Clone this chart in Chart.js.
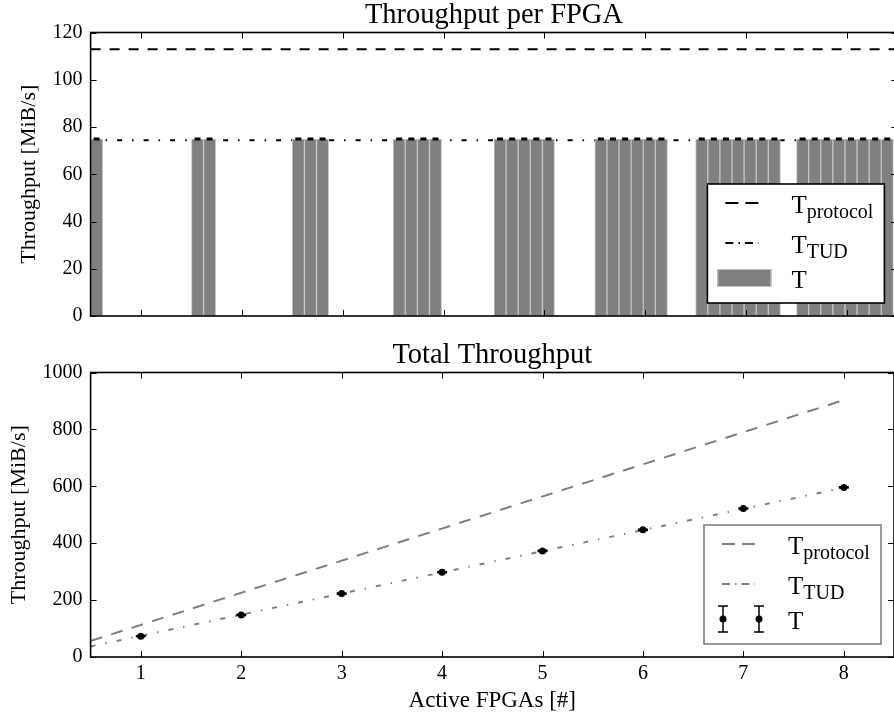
<!DOCTYPE html>
<html>
<head>
<meta charset="utf-8">
<script src="https://cdn.jsdelivr.net/npm/chart.js@4.4.1/dist/chart.umd.min.js"></script>
<style>
  html, body { margin: 0; padding: 0; background: #fff; overflow: hidden; width: 894px; height: 720px; }
  #per-fpga { position: absolute; left: 0; top: 0; }
  #total { position: absolute; left: 0; top: 340px; }
</style>
</head>
<body>
<canvas id="per-fpga" width="898" height="345"></canvas>
<canvas id="total" width="898" height="380"></canvas>
<script>
'use strict';

// ── Data ──────────────────────────────────────────────────────────────────────

const xTicks = [1, 2, 3, 4, 5, 6, 7, 8];
const perFpgaTicks = [0, 20, 40, 60, 80, 100, 120];
const totalTicks = [0, 200, 400, 600, 800, 1000];

// one bar per FPGA, grouped by number of active FPGAs
const activeFpgas = [1, 2, 3, 4, 5, 6, 7, 8];
const perFpga = [
  [74.9],
  [74.9, 74.9],
  [74.9, 74.9, 74.9],
  [74.9, 74.9, 74.9, 74.9],
  [74.9, 74.9, 74.9, 74.9, 74.9],
  [74.9, 74.9, 74.9, 74.9, 74.9, 74.9],
  [74.9, 74.9, 74.9, 74.9, 74.9, 74.9, 74.9],
  [74.9, 74.9, 74.9, 74.9, 74.9, 74.9, 74.9, 74.9],
];
const perFpgaErr = 0.3;
const protocolPerFpga = 112.9;
const tudPerFpga = 74.4;

const totalMeasured = [73, 148, 223, 298, 373, 447, 522, 596];
const totalErr = [2, 2, 2, 2, 2, 2, 2, 2];
const lineX = [0.5, 8];
const protocolTotal = [56.5, 903];
const tudTotal = [37.2, 595];

// ── Style ─────────────────────────────────────────────────────────────────────

const FONT = "'Liberation Serif', 'Times New Roman', serif";
const BAR_W = 0.12;
const DASH = [10, 9];
const DASH_DOT = [5, 10, 1.5, 10];
const GRAY = '#808080';

Chart.defaults.font.family = FONT;
Chart.defaults.font.size = 20;
Chart.defaults.color = '#000';
Chart.defaults.animation = false;

// ── Plugins ───────────────────────────────────────────────────────────────────

// frame + inward ticks on all four sides
const frameTicks = {
  id: 'frameTicks',
  afterDraw(chart) {
    const { ctx, chartArea: a, scales: { x, y } } = chart;
    ctx.save();
    ctx.strokeStyle = '#000';
    ctx.lineWidth = 1;
    ctx.beginPath();
    x.ticks.forEach(t => {
      const px = Math.round(x.getPixelForValue(t.value)) + 0.5;
      ctx.moveTo(px, a.bottom); ctx.lineTo(px, a.bottom - 6);
      ctx.moveTo(px, a.top); ctx.lineTo(px, a.top + 6);
    });
    y.ticks.forEach(t => {
      const py = Math.round(y.getPixelForValue(t.value)) + 0.5;
      ctx.moveTo(a.left, py); ctx.lineTo(a.left + 6, py);
      ctx.moveTo(a.right, py); ctx.lineTo(a.right - 6, py);
    });
    ctx.stroke();
    ctx.lineWidth = 1.6;
    ctx.strokeRect(a.left, a.top, a.right - a.left, a.bottom - a.top);
    ctx.restore();
  }
};

const errorBars = {
  id: 'errorBars',
  afterDatasetsDraw(chart, args, o) {
    if (o.datasetIndex == null) return;
    const { ctx, scales: { x, y } } = chart;
    const ds = chart.data.datasets[o.datasetIndex];
    ctx.save();
    ctx.strokeStyle = '#000';
    ctx.lineWidth = o.width;
    ctx.beginPath();
    ds.data.forEach(p => {
      const px = x.getPixelForValue(p.x);
      const lo = y.getPixelForValue(p.y - p.err);
      const hi = y.getPixelForValue(p.y + p.err);
      const c = o.cap / 2;
      ctx.moveTo(px, lo); ctx.lineTo(px, hi);
      ctx.moveTo(px - c, lo); ctx.lineTo(px + c, lo);
      ctx.moveTo(px - c, hi); ctx.lineTo(px + c, hi);
    });
    ctx.stroke();
    ctx.restore();
  }
};

function drawErrorHandle(ctx, cx, cy) {
  ctx.strokeStyle = '#000';
  ctx.lineWidth = 1.5;
  ctx.setLineDash([]);
  ctx.beginPath();
  ctx.moveTo(cx, cy - 13); ctx.lineTo(cx, cy + 13);
  ctx.moveTo(cx - 5, cy - 13); ctx.lineTo(cx + 5, cy - 13);
  ctx.moveTo(cx - 5, cy + 13); ctx.lineTo(cx + 5, cy + 13);
  ctx.stroke();
  ctx.fillStyle = '#000';
  ctx.beginPath();
  ctx.arc(cx, cy, 3.5, 0, Math.PI * 2);
  ctx.fill();
}

// boxed legend, lower right, with subscripted labels
const boxLegend = {
  id: 'boxLegend',
  afterDraw(chart, args, o) {
    if (!o.items) return;
    const { ctx, chartArea: a } = chart;
    const w = 177, h = 119;
    const left = a.right - 13 - w, top = a.bottom - 13 - h;
    const rows = [19, 59, 94];
    ctx.save();
    ctx.fillStyle = '#fff';
    ctx.fillRect(left, top, w, h);
    ctx.strokeStyle = o.border;
    ctx.lineWidth = 1.6;
    ctx.strokeRect(left, top, w, h);

    o.items.forEach((it, i) => {
      const cy = top + rows[i];
      if (it.kind === 'line') {
        ctx.strokeStyle = it.color;
        ctx.lineWidth = it.width;
        ctx.setLineDash(it.dash);
        ctx.beginPath();
        ctx.moveTo(left + 18, cy); ctx.lineTo(left + 51, cy);
        ctx.stroke();
        ctx.setLineDash([]);
      } else if (it.kind === 'patch') {
        ctx.fillStyle = GRAY;
        ctx.fillRect(left + 10, cy - 9, 54, 18);
        ctx.strokeStyle = '#c4c4c4';
        ctx.lineWidth = 1;
        ctx.strokeRect(left + 10.5, cy - 8.5, 53, 17);
      } else if (it.kind === 'errorbar') {
        drawErrorHandle(ctx, left + 19, cy);
        drawErrorHandle(ctx, left + 55, cy);
      }
      ctx.fillStyle = '#000';
      ctx.textBaseline = 'alphabetic';
      ctx.textAlign = 'left';
      ctx.font = `25px ${FONT}`;
      const tx = left + 84;
      ctx.fillText(it.label, tx, cy + 10);
      if (it.sub) {
        const tw = ctx.measureText(it.label).width;
        ctx.font = `20px ${FONT}`;
        ctx.fillText(it.sub, tx + tw, cy + 15);
      }
    });
    ctx.restore();
  }
};

// ── Shared axis config ────────────────────────────────────────────────────────

function xAxis(showLabels, height) {
  return {
    type: 'linear', min: 0.5, max: 8.5, offset: false,
    afterBuildTicks: s => { s.ticks = xTicks.map(v => ({ value: v })); },
    afterFit: s => { s.height = height; },
    grid: { display: false, drawTicks: false },
    border: { display: false },
    ticks: { display: showLabels, padding: 5, maxRotation: 0, callback: v => String(v) },
    title: { display: showLabels, text: 'Active FPGAs [#]', font: { size: 23 }, padding: { top: 0, bottom: 5 } },
  };
}

function yAxis(max, tickValues, titlePad) {
  return {
    min: 0, max,
    afterBuildTicks: s => { s.ticks = tickValues.map(v => ({ value: v })); },
    afterFit: s => { s.width = 90.6; },
    grid: { display: false, drawTicks: false },
    border: { display: false },
    ticks: { padding: 8, callback: v => String(v) },
    title: { display: true, text: 'Throughput [MiB/s]', font: { size: 22 }, padding: { top: titlePad, bottom: 0 } },
  };
}

function titleCfg(text) {
  return {
    display: true, text, color: '#000', fullSize: false,
    font: { size: 28.5, weight: 'normal', lineHeight: 1.1 },
    padding: { top: 0, bottom: 1.15 },
  };
}

// ── Top: throughput per FPGA ──────────────────────────────────────────────────

const barPoints = [];
activeFpgas.forEach((n, g) => {
  perFpga[g].forEach((v, i) => {
    barPoints.push({ x: n - 0.5 + BAR_W * (i + 0.5), y: v, err: perFpgaErr });
  });
});

new Chart(document.getElementById('per-fpga'), {
  type: 'bar',
  data: {
    datasets: [
      {
        type: 'bar',
        data: barPoints,
        backgroundColor: GRAY,
        borderColor: '#c4c4c4',
        borderWidth: 1,
        borderSkipped: false,
        barPercentage: 1,
        categoryPercentage: 1,
        order: 0,
      },
      {
        type: 'line',
        data: [{ x: 0.5, y: protocolPerFpga }, { x: 8.5, y: protocolPerFpga }],
        borderColor: '#000', borderWidth: 1.8, borderDash: DASH,
        pointRadius: 0, order: 1,
      },
      {
        type: 'line',
        data: [{ x: 0.5, y: tudPerFpga }, { x: 8.5, y: tudPerFpga }],
        borderColor: '#000', borderWidth: 1.8, borderDash: DASH_DOT,
        pointRadius: 0, order: 1,
      },
    ],
  },
  options: {
    responsive: false,
    layout: { padding: { left: 0, right: 0.6, top: 0, bottom: 0 } },
    plugins: {
      legend: { display: false },
      tooltip: { enabled: false },
      title: titleCfg('Throughput per FPGA'),
      errorBars: { datasetIndex: 0, cap: 6, width: 1.5 },
      boxLegend: {
        border: '#000',
        items: [
          { kind: 'line', color: '#000', width: 1.8, dash: [13, 7], label: 'T', sub: 'protocol' },
          { kind: 'line', color: '#000', width: 1.8, dash: [8, 5, 1.5, 5], label: 'T', sub: 'TUD' },
          { kind: 'patch', label: 'T' },
        ],
      },
    },
    scales: {
      x: xAxis(false, 29),
      y: yAxis(120, perFpgaTicks, 16),
    },
  },
  plugins: [errorBars, frameTicks, boxLegend],
});

// ── Bottom: total throughput ──────────────────────────────────────────────────

new Chart(document.getElementById('total'), {
  type: 'line',
  data: {
    datasets: [
      {
        data: activeFpgas.map((n, i) => ({ x: n, y: totalMeasured[i], err: totalErr[i] })),
        showLine: false,
        pointRadius: 3.5,
        pointBackgroundColor: '#000',
        pointBorderWidth: 0,
        order: 0,
      },
      {
        data: lineX.map((x, i) => ({ x, y: protocolTotal[i] })),
        borderColor: GRAY, borderWidth: 2, borderDash: [12, 9.5],
        pointRadius: 0, order: 1,
      },
      {
        data: lineX.map((x, i) => ({ x, y: tudTotal[i] })),
        borderColor: GRAY, borderWidth: 2, borderDash: DASH_DOT,
        pointRadius: 0, order: 1,
      },
    ],
  },
  options: {
    responsive: false,
    layout: { padding: { left: 0, right: 0.6, top: 0, bottom: 0 } },
    plugins: {
      legend: { display: false },
      tooltip: { enabled: false },
      title: titleCfg('Total Throughput'),
      errorBars: { datasetIndex: 0, cap: 10, width: 1.5 },
      boxLegend: {
        border: GRAY,
        items: [
          { kind: 'line', color: GRAY, width: 2, dash: [13, 7], label: 'T', sub: 'protocol' },
          { kind: 'line', color: GRAY, width: 2, dash: [8, 5, 1.5, 5], label: 'T', sub: 'TUD' },
          { kind: 'errorbar', label: 'T' },
        ],
      },
    },
    scales: {
      x: xAxis(true, 63),
      y: yAxis(1000, totalTicks, 6),
    },
  },
  plugins: [errorBars, frameTicks, boxLegend],
});
</script>
</body>
</html>
